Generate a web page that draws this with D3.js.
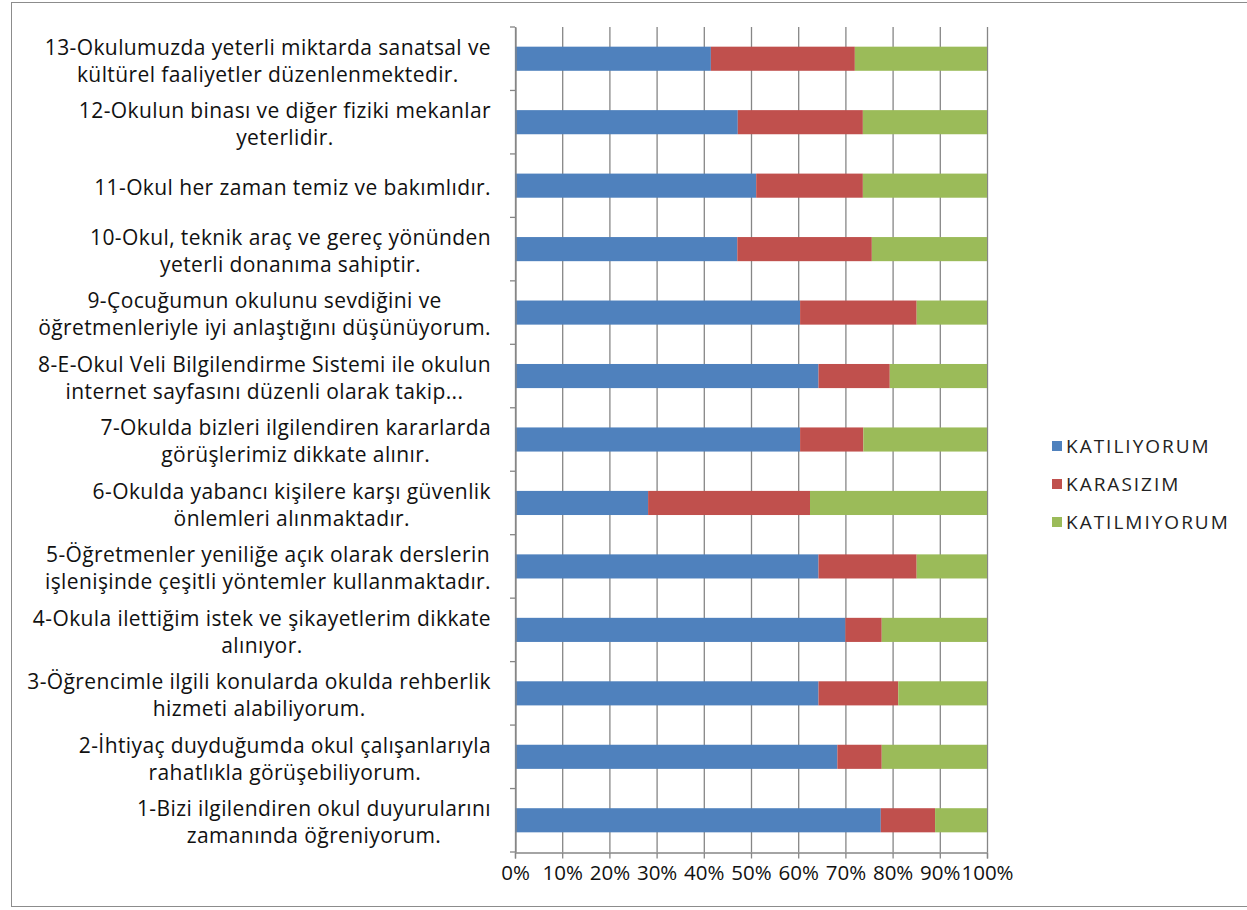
<!DOCTYPE html>
<html><head><meta charset="utf-8">
<script src="https://cdn.jsdelivr.net/npm/d3@7"></script>
<style>body{margin:0;background:#fff;} svg{display:block;}</style>
</head><body>
<svg id="c" width="1247" height="910"></svg>
<script>
const categories = [
  ["1-Bizi ilgilendiren okul duyurularını","zamanında öğreniyorum."],
  ["2-İhtiyaç duyduğumda okul çalışanlarıyla","rahatlıkla görüşebiliyorum."],
  ["3-Öğrencimle ilgili konularda okulda rehberlik","hizmeti alabiliyorum."],
  ["4-Okula ilettiğim istek ve şikayetlerim dikkate","alınıyor."],
  ["5-Öğretmenler yeniliğe açık olarak derslerin","işlenişinde çeşitli yöntemler kullanmaktadır."],
  ["6-Okulda yabancı kişilere karşı güvenlik","önlemleri alınmaktadır."],
  ["7-Okulda bizleri ilgilendiren kararlarda","görüşlerimiz dikkate alınır."],
  ["8-E-Okul Veli Bilgilendirme Sistemi ile okulun","internet sayfasını düzenli olarak takip..."],
  ["9-Çocuğumun okulunu sevdiğini ve","öğretmenleriyle iyi anlaştığını düşünüyorum."],
  ["10-Okul, teknik araç ve gereç yönünden","yeterli donanıma sahiptir."],
  ["11-Okul her zaman temiz ve bakımlıdır."],
  ["12-Okulun binası ve diğer fiziki mekanlar","yeterlidir."],
  ["13-Okulumuzda yeterli miktarda sanatsal ve","kültürel faaliyetler düzenlenmektedir."]
];
const seriesNames = ["KATILIYORUM","KARASIZIM","KATILMIYORUM"];
const katiliyorum  = [77.5, 68.3, 64.3, 70.0, 64.3, 28.2, 60.4, 64.3, 60.4, 47.1, 51.1, 47.2, 41.5];
const karasizim    = [11.5,  9.4, 16.9,  7.7, 20.8, 34.3, 13.4, 15.1, 24.7, 28.5, 22.6, 26.5, 30.5];
const katilmiyorum = [11.0, 22.3, 18.8, 22.3, 14.9, 37.5, 26.2, 20.6, 14.9, 24.4, 26.3, 26.3, 28.0];
const tickLabels = ["0%","10%","20%","30%","40%","50%","60%","70%","80%","90%","100%"];
const colors = ["#4F81BD","#C0504D","#9BBB59"];

const svg = d3.select("#c");
svg.append("rect").attr("x",11.5).attr("y",2.5).attr("width",1240).attr("height",904)
  .attr("fill","#fff").attr("stroke","#8c8c8c").attr("stroke-width",1);

const pLeft = 515, pRight = 987, pTop = 27, pBottom = 852;
const x = d3.scaleLinear().domain([0,100]).range([pLeft,pRight]);
const idx = d3.range(categories.length);
const y = d3.scaleBand().domain(idx.slice().reverse()).range([pTop,pBottom]).paddingInner(0.62).paddingOuter(0.31);
const yb = d3.scaleBand().domain(idx.slice().reverse()).range([pTop,pBottom]);

// gridlines
svg.append("g").selectAll("line").data(d3.range(0,101,10)).enter().append("line")
  .attr("x1",d=>x(d)+0.5).attr("x2",d=>x(d)+0.5).attr("y1",pTop).attr("y2",pBottom)
  .attr("stroke","#868686").attr("stroke-width",1.3);

// stacked data
const rows = idx.map(i=>({i, KATILIYORUM:katiliyorum[i], KARASIZIM:karasizim[i], KATILMIYORUM:katilmiyorum[i]}));
const stack = d3.stack().keys(seriesNames)(rows);
stack.forEach((s,si)=>{
  svg.append("g").selectAll("rect").data(s).enter().append("rect")
    .attr("x",d=>x(d[0])).attr("width",d=>Math.max(0,x(Math.min(100,d[1]))-x(d[0])))
    .attr("y",d=>y(d.data.i)).attr("height",y.bandwidth())
    .attr("fill",colors[si]);
});

// axes
const xAxis = svg.append("g").attr("transform",`translate(0,${pBottom+0.5})`)
  .call(d3.axisBottom(x).tickValues(d3.range(0,101,10)).tickFormat((d,i)=>tickLabels[i]).tickSize(6).tickPadding(7));
xAxis.select(".domain").attr("stroke","#868686").attr("stroke-width",1.3);
xAxis.selectAll(".tick line").attr("stroke","#868686").attr("stroke-width",1.3);
xAxis.selectAll("text").attr("font-family","'Open Sans', sans-serif").attr("font-size",20.5).attr("fill","#111");

const yAxis = svg.append("g").attr("transform",`translate(${pLeft+0.5},0)`)
  .call(d3.axisLeft(yb).tickValues(idx).tickSize(0).tickFormat(""));
yAxis.select(".domain").attr("stroke","#868686").attr("stroke-width",1.3);
// category boundary ticks
svg.append("g").selectAll("line").data(d3.range(categories.length+1)).enter().append("line")
  .attr("x1",pLeft-5).attr("x2",pLeft)
  .attr("y1",d=>pTop + d*yb.step()).attr("y2",d=>pTop + d*yb.step())
  .attr("stroke","#868686").attr("stroke-width",1.3);

// category labels
const labelRight = 491, lineH = 27;
idx.forEach(i=>{
  const lines = categories[i];
  const cy = yb(i) + yb.bandwidth()/2 + 2;
  const t = svg.append("text").attr("font-family","'Open Sans', sans-serif").attr("font-size",21)
    .attr("letter-spacing","0.4px").attr("fill","#111").attr("text-anchor","middle");
  const spans = lines.map((ln,k)=>t.append("tspan").text(ln)
    .attr("y", cy + (k-(lines.length-1)/2)*lineH).attr("dy","0.35em"));
  const w = d3.max(spans, s=>s.node().getComputedTextLength());
  spans.forEach(s=>s.attr("x", labelRight - w/2));
});

// legend
const lg = svg.append("g");
seriesNames.forEach((n,i)=>{
  const yy = 446 + i*38;
  lg.append("rect").attr("x",1052).attr("y",yy-5).attr("width",10).attr("height",10).attr("fill",colors[i]);
  lg.append("text").attr("x",1066).attr("y",yy).attr("dy","0.35em")
    .attr("font-family","'Open Sans', sans-serif").attr("font-size",19).attr("letter-spacing","2px")
    .attr("fill","#222").text(n);
});
</script>
</body></html>
